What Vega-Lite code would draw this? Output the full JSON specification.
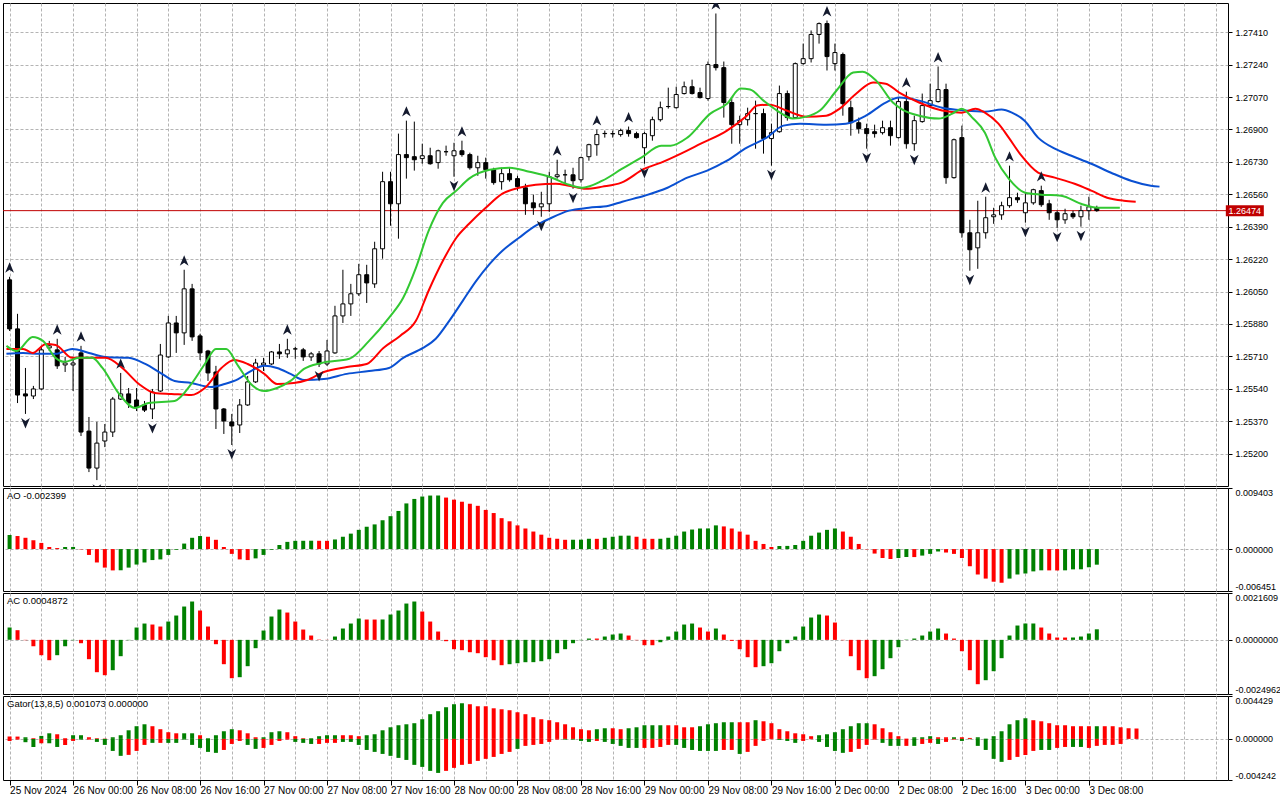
{
  "$schema": "https://vega.github.io/schema/vega-lite/v6.json",
  "background": "white",
  "padding": {"left": 2, "top": 2, "right": 0, "bottom": 0},
  "bounds": "flush",
  "spacing": 2,
  "datasets": {
    "last": [{"p": 1.26474}],
    "candles": [
      {"i":0,"o":1.26111,"h":1.26127,"l":1.25843,"c":1.25854},
      {"i":1,"o":1.25854,"h":1.25933,"l":1.25465,"c":1.25507},
      {"i":2,"o":1.25513,"h":1.25649,"l":1.25408,"c":1.25502},
      {"i":3,"o":1.25502,"h":1.25555,"l":1.25486,"c":1.25539},
      {"i":4,"o":1.25539,"h":1.25765,"l":1.25534,"c":1.25744},
      {"i":5,"o":1.25754,"h":1.25791,"l":1.25738,"c":1.25765},
      {"i":6,"o":1.25744,"h":1.25802,"l":1.25644,"c":1.2566},
      {"i":7,"o":1.25665,"h":1.25707,"l":1.25628,"c":1.25675},
      {"i":8,"o":1.25665,"h":1.25707,"l":1.25528,"c":1.25675},
      {"i":9,"o":1.25728,"h":1.25765,"l":1.25292,"c":1.25313},
      {"i":10,"o":1.25318,"h":1.25392,"l":1.25103,"c":1.25124},
      {"i":11,"o":1.25124,"h":1.25366,"l":1.25061,"c":1.25255},
      {"i":12,"o":1.25266,"h":1.25355,"l":1.25234,"c":1.25313},
      {"i":13,"o":1.25313,"h":1.25497,"l":1.25287,"c":1.25486},
      {"i":14,"o":1.25486,"h":1.25623,"l":1.25481,"c":1.25513},
      {"i":15,"o":1.25513,"h":1.25544,"l":1.25439,"c":1.25465},
      {"i":16,"o":1.25481,"h":1.25544,"l":1.25423,"c":1.25444},
      {"i":17,"o":1.25455,"h":1.25476,"l":1.25418,"c":1.25428},
      {"i":18,"o":1.25434,"h":1.25539,"l":1.25381,"c":1.25523},
      {"i":19,"o":1.25528,"h":1.25775,"l":1.25523,"c":1.25717},
      {"i":20,"o":1.25707,"h":1.25922,"l":1.25702,"c":1.25885},
      {"i":21,"o":1.25885,"h":1.25922,"l":1.25728,"c":1.25833},
      {"i":22,"o":1.25833,"h":1.26164,"l":1.2577,"c":1.26064},
      {"i":23,"o":1.26064,"h":1.2609,"l":1.25791,"c":1.25812},
      {"i":24,"o":1.25817,"h":1.25828,"l":1.25691,"c":1.25728},
      {"i":25,"o":1.25738,"h":1.25744,"l":1.25581,"c":1.25623},
      {"i":26,"o":1.25628,"h":1.2566,"l":1.25329,"c":1.25434},
      {"i":27,"o":1.25434,"h":1.25439,"l":1.25303,"c":1.25371},
      {"i":28,"o":1.25366,"h":1.25408,"l":1.25245,"c":1.25345},
      {"i":29,"o":1.2535,"h":1.25486,"l":1.25308,"c":1.25455},
      {"i":30,"o":1.25455,"h":1.25607,"l":1.2545,"c":1.25576},
      {"i":31,"o":1.25576,"h":1.25697,"l":1.2557,"c":1.25675},
      {"i":32,"o":1.25665,"h":1.25702,"l":1.25633,"c":1.25675},
      {"i":33,"o":1.2567,"h":1.25738,"l":1.25665,"c":1.25733},
      {"i":34,"o":1.25733,"h":1.25775,"l":1.25697,"c":1.25723},
      {"i":35,"o":1.25723,"h":1.25802,"l":1.25702,"c":1.25744},
      {"i":36,"o":1.25749,"h":1.2576,"l":1.25697,"c":1.25749},
      {"i":37,"o":1.25744,"h":1.25754,"l":1.25686,"c":1.25707},
      {"i":38,"o":1.25707,"h":1.25733,"l":1.25686,"c":1.25723},
      {"i":39,"o":1.25723,"h":1.25738,"l":1.25654,"c":1.2567},
      {"i":40,"o":1.2567,"h":1.25796,"l":1.2566,"c":1.25738},
      {"i":41,"o":1.25728,"h":1.25975,"l":1.25723,"c":1.25922},
      {"i":42,"o":1.25922,"h":1.26164,"l":1.25885,"c":1.25985},
      {"i":43,"o":1.25985,"h":1.2609,"l":1.25922,"c":1.26038},
      {"i":44,"o":1.26038,"h":1.26195,"l":1.26027,"c":1.26138},
      {"i":45,"o":1.26138,"h":1.2619,"l":1.2599,"c":1.26095},
      {"i":46,"o":1.2609,"h":1.26311,"l":1.26069,"c":1.26274},
      {"i":47,"o":1.26274,"h":1.26678,"l":1.26222,"c":1.26626},
      {"i":48,"o":1.26626,"h":1.26678,"l":1.26395,"c":1.2651},
      {"i":49,"o":1.2651,"h":1.26878,"l":1.26327,"c":1.26768},
      {"i":50,"o":1.26768,"h":1.26946,"l":1.26642,"c":1.26752},
      {"i":51,"o":1.26757,"h":1.26941,"l":1.26684,"c":1.26741},
      {"i":52,"o":1.26747,"h":1.26825,"l":1.2672,"c":1.26762},
      {"i":53,"o":1.26762,"h":1.26804,"l":1.26715,"c":1.2672},
      {"i":54,"o":1.26726,"h":1.26794,"l":1.26694,"c":1.26788},
      {"i":55,"o":1.26783,"h":1.26815,"l":1.26762,"c":1.26783},
      {"i":56,"o":1.26762,"h":1.2683,"l":1.26652,"c":1.26788},
      {"i":57,"o":1.26788,"h":1.26841,"l":1.26757,"c":1.26768},
      {"i":58,"o":1.26768,"h":1.26778,"l":1.26689,"c":1.26699},
      {"i":59,"o":1.26699,"h":1.26762,"l":1.26657,"c":1.26726},
      {"i":60,"o":1.26726,"h":1.26752,"l":1.26642,"c":1.26689},
      {"i":61,"o":1.26689,"h":1.26699,"l":1.2661,"c":1.26621},
      {"i":62,"o":1.26626,"h":1.26699,"l":1.26584,"c":1.26668},
      {"i":63,"o":1.26668,"h":1.26699,"l":1.26626,"c":1.26636},
      {"i":64,"o":1.26642,"h":1.26657,"l":1.26579,"c":1.266},
      {"i":65,"o":1.26594,"h":1.26615,"l":1.26452,"c":1.2651},
      {"i":66,"o":1.26515,"h":1.26558,"l":1.26452,"c":1.26489},
      {"i":67,"o":1.26494,"h":1.26573,"l":1.26442,"c":1.2651},
      {"i":68,"o":1.2651,"h":1.26678,"l":1.26468,"c":1.26652},
      {"i":69,"o":1.26652,"h":1.26741,"l":1.26642,"c":1.26662},
      {"i":70,"o":1.26662,"h":1.26689,"l":1.2661,"c":1.26662},
      {"i":71,"o":1.26662,"h":1.26699,"l":1.26589,"c":1.26631},
      {"i":72,"o":1.26636,"h":1.26757,"l":1.26621,"c":1.26752},
      {"i":73,"o":1.26757,"h":1.26825,"l":1.26736,"c":1.2682},
      {"i":74,"o":1.2682,"h":1.26899,"l":1.26762,"c":1.26873},
      {"i":75,"o":1.26878,"h":1.26894,"l":1.26857,"c":1.26879},
      {"i":76,"o":1.26878,"h":1.26894,"l":1.26857,"c":1.26877},
      {"i":77,"o":1.26873,"h":1.26904,"l":1.26862,"c":1.26894},
      {"i":78,"o":1.26894,"h":1.26915,"l":1.26862,"c":1.26878},
      {"i":79,"o":1.26878,"h":1.26888,"l":1.26852,"c":1.26857},
      {"i":80,"o":1.26804,"h":1.26888,"l":1.2672,"c":1.26878},
      {"i":81,"o":1.26867,"h":1.26967,"l":1.26841,"c":1.26951},
      {"i":82,"o":1.26951,"h":1.27046,"l":1.26941,"c":1.27014},
      {"i":83,"o":1.2702,"h":1.27119,"l":1.27009,"c":1.2702},
      {"i":84,"o":1.27014,"h":1.27124,"l":1.27009,"c":1.27083},
      {"i":85,"o":1.27088,"h":1.27151,"l":1.27083,"c":1.27124},
      {"i":86,"o":1.27124,"h":1.27161,"l":1.27083,"c":1.27088},
      {"i":87,"o":1.27093,"h":1.27119,"l":1.27062,"c":1.27067},
      {"i":88,"o":1.27062,"h":1.27256,"l":1.27051,"c":1.2724},
      {"i":89,"o":1.2724,"h":1.27508,"l":1.27209,"c":1.27224},
      {"i":90,"o":1.27224,"h":1.27256,"l":1.26962,"c":1.27041},
      {"i":91,"o":1.27041,"h":1.27062,"l":1.26825,"c":1.26925},
      {"i":92,"o":1.26925,"h":1.26972,"l":1.26825,"c":1.26946},
      {"i":93,"o":1.26951,"h":1.27014,"l":1.2692,"c":1.26983},
      {"i":94,"o":1.26983,"h":1.27051,"l":1.26799,"c":1.26983},
      {"i":95,"o":1.26983,"h":1.27009,"l":1.26773,"c":1.26852},
      {"i":96,"o":1.26852,"h":1.2693,"l":1.2671,"c":1.26883},
      {"i":97,"o":1.26888,"h":1.2713,"l":1.26883,"c":1.27088},
      {"i":98,"o":1.27088,"h":1.27104,"l":1.26946,"c":1.26962},
      {"i":99,"o":1.26962,"h":1.27251,"l":1.26956,"c":1.27245},
      {"i":100,"o":1.27245,"h":1.2735,"l":1.2724,"c":1.27271},
      {"i":101,"o":1.27271,"h":1.27419,"l":1.27251,"c":1.27398},
      {"i":102,"o":1.27398,"h":1.27461,"l":1.2735,"c":1.27455},
      {"i":103,"o":1.27455,"h":1.27471,"l":1.27209,"c":1.27282},
      {"i":104,"o":1.27245,"h":1.2735,"l":1.27209,"c":1.27303},
      {"i":105,"o":1.27293,"h":1.27303,"l":1.26972,"c":1.27035},
      {"i":106,"o":1.27014,"h":1.27051,"l":1.26867,"c":1.26935},
      {"i":107,"o":1.26935,"h":1.26962,"l":1.26878,"c":1.26904},
      {"i":108,"o":1.26904,"h":1.2693,"l":1.26799,"c":1.26878},
      {"i":109,"o":1.26888,"h":1.26925,"l":1.26857,"c":1.26878},
      {"i":110,"o":1.26883,"h":1.26946,"l":1.26873,"c":1.26909},
      {"i":111,"o":1.26909,"h":1.26946,"l":1.26815,"c":1.26867},
      {"i":112,"o":1.26857,"h":1.27067,"l":1.26852,"c":1.27046},
      {"i":113,"o":1.27046,"h":1.27098,"l":1.26799,"c":1.26825},
      {"i":114,"o":1.26825,"h":1.26972,"l":1.26788,"c":1.26946},
      {"i":115,"o":1.26941,"h":1.27088,"l":1.26935,"c":1.27025},
      {"i":116,"o":1.27025,"h":1.2714,"l":1.27014,"c":1.27051},
      {"i":117,"o":1.27046,"h":1.2723,"l":1.27041,"c":1.27109},
      {"i":118,"o":1.27109,"h":1.2714,"l":1.26615,"c":1.26647},
      {"i":119,"o":1.26647,"h":1.26852,"l":1.26642,"c":1.26846},
      {"i":120,"o":1.26857,"h":1.2692,"l":1.26332,"c":1.26358},
      {"i":121,"o":1.26358,"h":1.26426,"l":1.26159,"c":1.26269},
      {"i":122,"o":1.26279,"h":1.26526,"l":1.26169,"c":1.26358},
      {"i":123,"o":1.26358,"h":1.26547,"l":1.26327,"c":1.26437},
      {"i":124,"o":1.26442,"h":1.26489,"l":1.26405,"c":1.26452},
      {"i":125,"o":1.26452,"h":1.26521,"l":1.26426,"c":1.265},
      {"i":126,"o":1.265,"h":1.2671,"l":1.26489,"c":1.26542},
      {"i":127,"o":1.26542,"h":1.26568,"l":1.26515,"c":1.26531},
      {"i":128,"o":1.26463,"h":1.26568,"l":1.26411,"c":1.26515},
      {"i":129,"o":1.26515,"h":1.26589,"l":1.26505,"c":1.26584},
      {"i":130,"o":1.26579,"h":1.26605,"l":1.26494,"c":1.26505},
      {"i":131,"o":1.2651,"h":1.26531,"l":1.26426,"c":1.26463},
      {"i":132,"o":1.26463,"h":1.26474,"l":1.26384,"c":1.26426},
      {"i":133,"o":1.26426,"h":1.26484,"l":1.26405,"c":1.26458},
      {"i":134,"o":1.26458,"h":1.26474,"l":1.26431,"c":1.26442},
      {"i":135,"o":1.26442,"h":1.265,"l":1.2639,"c":1.26474},
      {"i":136,"o":1.26474,"h":1.26547,"l":1.26426,"c":1.26494},
      {"i":137,"o":1.26489,"h":1.265,"l":1.26468,"c":1.26474}
    ],
    "jaw": [
      {"i":-0.4,"v":1.25723},{"i":1.7,"v":1.25728},{"i":3.8,"v":1.25723},{"i":5.8,"v":1.25723},{"i":7.9,"v":1.25749},{"i":10,"v":1.25728},{"i":12.1,"v":1.25707},{"i":15,"v":1.25702},{"i":17.1,"v":1.2567},{"i":19.2,"v":1.25618},{"i":20.8,"v":1.25581},{"i":22.9,"v":1.2557},{"i":25.4,"v":1.25549},{"i":27.1,"v":1.25565},{"i":28.8,"v":1.25591},{"i":30.4,"v":1.25633},{"i":32.1,"v":1.2566},{"i":33.7,"v":1.25649},{"i":35.4,"v":1.25618},{"i":37.1,"v":1.25586},{"i":39.6,"v":1.25591},{"i":42.5,"v":1.25618},{"i":45.3,"v":1.25633},{"i":47.8,"v":1.25649},{"i":49.6,"v":1.25702},{"i":52.1,"v":1.25754},{"i":53.7,"v":1.25802},{"i":55.4,"v":1.25896},{"i":57.1,"v":1.26001},{"i":58.8,"v":1.26106},{"i":60.5,"v":1.26195},{"i":62.1,"v":1.26264},{"i":64.2,"v":1.26332},{"i":66.3,"v":1.26395},{"i":68,"v":1.26431},{"i":70.5,"v":1.26474},{"i":73,"v":1.26489},{"i":75.5,"v":1.265},{"i":77.2,"v":1.26521},{"i":80,"v":1.26552},{"i":82.9,"v":1.26594},{"i":85.4,"v":1.26647},{"i":87.9,"v":1.26684},{"i":90.4,"v":1.26736},{"i":92.9,"v":1.26804},{"i":95.4,"v":1.26857},{"i":97.5,"v":1.2692},{"i":99.6,"v":1.2693},{"i":102.9,"v":1.26925},{"i":105.4,"v":1.2693},{"i":107.9,"v":1.26972},{"i":110.4,"v":1.27041},{"i":112.1,"v":1.27067},{"i":114.6,"v":1.27051},{"i":117.5,"v":1.27014},{"i":120.4,"v":1.26999},{"i":122.9,"v":1.26993},{"i":125,"v":1.27004},{"i":126.3,"v":1.26988},{"i":127.9,"v":1.26946},{"i":129.6,"v":1.26857},{"i":131.7,"v":1.26799},{"i":133.8,"v":1.26762},{"i":136.3,"v":1.2672},{"i":138.8,"v":1.26673},{"i":141.3,"v":1.26631},{"i":143.8,"v":1.26605},{"i":144.9,"v":1.266}
    ],
    "teeth": [
      {"i":-0.4,"v":1.25749},{"i":1.7,"v":1.25749},{"i":2.9,"v":1.25728},{"i":4.6,"v":1.25775},{"i":5.8,"v":1.2577},{"i":7.9,"v":1.25702},{"i":10,"v":1.25702},{"i":12.1,"v":1.25702},{"i":14.2,"v":1.25649},{"i":16.3,"v":1.25565},{"i":18.3,"v":1.25518},{"i":20.4,"v":1.25513},{"i":22.9,"v":1.25507},{"i":24.6,"v":1.25544},{"i":26.7,"v":1.25649},{"i":28.3,"v":1.25691},{"i":30,"v":1.2567},{"i":32.1,"v":1.25618},{"i":33.7,"v":1.25565},{"i":35.8,"v":1.2557},{"i":37.5,"v":1.25586},{"i":39.6,"v":1.25628},{"i":42.5,"v":1.25654},{"i":45,"v":1.2567},{"i":47.1,"v":1.25754},{"i":49.2,"v":1.25817},{"i":51.2,"v":1.25896},{"i":52.8,"v":1.26054},{"i":54.6,"v":1.26211},{"i":56.3,"v":1.26332},{"i":57.9,"v":1.26405},{"i":60,"v":1.26489},{"i":62.1,"v":1.26563},{"i":64.2,"v":1.26594},{"i":66.3,"v":1.2661},{"i":68.8,"v":1.26615},{"i":70.5,"v":1.26605},{"i":72.6,"v":1.26589},{"i":74.7,"v":1.266},{"i":77.1,"v":1.26621},{"i":80,"v":1.26694},{"i":82.1,"v":1.26726},{"i":84.6,"v":1.26773},{"i":87.1,"v":1.26825},{"i":90.4,"v":1.26894},{"i":92.9,"v":1.26972},{"i":94.2,"v":1.27025},{"i":95.8,"v":1.2703},{"i":97.9,"v":1.26999},{"i":100.4,"v":1.26967},{"i":102.9,"v":1.26972},{"i":104.6,"v":1.27009},{"i":106.7,"v":1.27088},{"i":108.8,"v":1.27146},{"i":110.4,"v":1.2714},{"i":112.1,"v":1.27093},{"i":114.6,"v":1.27041},{"i":117.5,"v":1.26999},{"i":120,"v":1.26988},{"i":121.7,"v":1.27009},{"i":122.9,"v":1.26988},{"i":124.6,"v":1.2693},{"i":125.9,"v":1.26857},{"i":127.5,"v":1.26762},{"i":129.6,"v":1.26673},{"i":131.7,"v":1.26647},{"i":134.2,"v":1.26615},{"i":136.3,"v":1.26579},{"i":138.3,"v":1.26542},{"i":140.4,"v":1.26526},{"i":141.9,"v":1.26521}
    ],
    "lips": [
      {"i":-0.4,"v":1.25765},{"i":0.9,"v":1.25738},{"i":2.9,"v":1.25812},{"i":4.2,"v":1.25791},{"i":5.8,"v":1.25702},{"i":6.9,"v":1.25681},{"i":8.8,"v":1.25702},{"i":10.4,"v":1.25702},{"i":11.7,"v":1.25649},{"i":13.8,"v":1.25513},{"i":15.8,"v":1.25439},{"i":17.5,"v":1.25465},{"i":20.8,"v":1.25476},{"i":22.9,"v":1.25565},{"i":24.6,"v":1.2567},{"i":26,"v":1.25749},{"i":27.3,"v":1.25749},{"i":28.8,"v":1.2566},{"i":30.4,"v":1.25565},{"i":32.1,"v":1.25528},{"i":33.7,"v":1.25544},{"i":35.4,"v":1.25581},{"i":37.1,"v":1.25644},{"i":39.3,"v":1.25675},{"i":42.8,"v":1.25697},{"i":45.3,"v":1.25791},{"i":47.8,"v":1.25912},{"i":49.6,"v":1.26017},{"i":51.2,"v":1.26174},{"i":52.8,"v":1.26368},{"i":54.6,"v":1.26515},{"i":56.3,"v":1.26579},{"i":57.9,"v":1.26642},{"i":60.5,"v":1.26689},{"i":63,"v":1.26699},{"i":65.5,"v":1.26678},{"i":68,"v":1.26652},{"i":70.5,"v":1.2661},{"i":72.2,"v":1.26594},{"i":74.7,"v":1.26631},{"i":77.2,"v":1.26694},{"i":79.6,"v":1.26752},{"i":82.1,"v":1.26815},{"i":83.3,"v":1.26815},{"i":85.4,"v":1.26857},{"i":88.3,"v":1.26983},{"i":90.4,"v":1.27035},{"i":92.1,"v":1.27114},{"i":93.3,"v":1.27109},{"i":95,"v":1.27051},{"i":96.7,"v":1.26999},{"i":98.7,"v":1.26957},{"i":100.4,"v":1.26967},{"i":102.1,"v":1.26999},{"i":104.2,"v":1.27104},{"i":106.3,"v":1.27198},{"i":107.5,"v":1.27203},{"i":109.2,"v":1.27156},{"i":111.3,"v":1.27041},{"i":112.5,"v":1.27004},{"i":114.6,"v":1.26972},{"i":117.1,"v":1.26957},{"i":118.8,"v":1.26983},{"i":120,"v":1.27009},{"i":121.3,"v":1.26962},{"i":122.9,"v":1.26883},{"i":124.2,"v":1.26752},{"i":125.9,"v":1.26642},{"i":128,"v":1.26568},{"i":130,"v":1.26558},{"i":132.5,"v":1.26552},{"i":135,"v":1.2651},{"i":137.1,"v":1.26489},{"i":139.9,"v":1.26489}
    ],
    "fup": [
      {"i":0,"p":1.26127},{"i":6,"p":1.25802},{"i":9,"p":1.25765},{"i":14,"p":1.25623},{"i":22,"p":1.26164},{"i":35,"p":1.25802},{"i":50,"p":1.26946},{"i":57,"p":1.26841},{"i":69,"p":1.26741},{"i":74,"p":1.26899},{"i":78,"p":1.26915},{"i":89,"p":1.27508},{"i":103,"p":1.27471},{"i":113,"p":1.27098},{"i":117,"p":1.2723},{"i":123,"p":1.26547},{"i":126,"p":1.2671},{"i":130,"p":1.26605}
    ],
    "fdn": [
      {"i":2,"p":1.25408},{"i":11,"p":1.25061},{"i":18,"p":1.25381},{"i":28,"p":1.25245},{"i":39,"p":1.25654},{"i":56,"p":1.26652},{"i":67,"p":1.26442},{"i":71,"p":1.26589},{"i":80,"p":1.2672},{"i":96,"p":1.2671},{"i":108,"p":1.26799},{"i":114,"p":1.26788},{"i":121,"p":1.26159},{"i":128,"p":1.26411},{"i":132,"p":1.26384},{"i":135,"p":1.2639}
    ],
    "ao": [
      {"i":0,"v":0.00217,"d":"up"},{"i":1,"v":0.00201,"d":"dn"},{"i":2,"v":0.00174,"d":"dn"},{"i":3,"v":0.00137,"d":"dn"},{"i":4,"v":0.00095,"d":"dn"},{"i":5,"v":0.00032,"d":"dn"},{"i":6,"v":0.00016,"d":"dn"},{"i":7,"v":0.00032,"d":"up"},{"i":8,"v":0.00033,"d":"up"},{"i":9,"v":-0.00005,"d":"dn"},
      {"i":10,"v":-0.0009,"d":"dn"},{"i":11,"v":-0.00206,"d":"dn"},{"i":12,"v":-0.00285,"d":"dn"},{"i":13,"v":-0.00328,"d":"dn"},{"i":14,"v":-0.00326,"d":"up"},{"i":15,"v":-0.00285,"d":"up"},{"i":16,"v":-0.00238,"d":"up"},{"i":17,"v":-0.00206,"d":"up"},{"i":18,"v":-0.00169,"d":"up"},{"i":19,"v":-0.00159,"d":"up"},
      {"i":20,"v":-0.0009,"d":"up"},{"i":21,"v":-0.00011,"d":"up"},{"i":22,"v":0.00085,"d":"up"},{"i":23,"v":0.00174,"d":"up"},{"i":24,"v":0.00201,"d":"up"},{"i":25,"v":0.0019,"d":"dn"},{"i":26,"v":0.00143,"d":"dn"},{"i":27,"v":0.00032,"d":"dn"},{"i":28,"v":-0.00074,"d":"dn"},{"i":29,"v":-0.00159,"d":"dn"},
      {"i":30,"v":-0.00169,"d":"dn"},{"i":31,"v":-0.00143,"d":"up"},{"i":32,"v":-0.0009,"d":"up"},{"i":33,"v":-0.00011,"d":"up"},{"i":34,"v":0.00063,"d":"up"},{"i":35,"v":0.00111,"d":"up"},{"i":36,"v":0.00127,"d":"up"},{"i":37,"v":0.00128,"d":"up"},{"i":38,"v":0.00129,"d":"up"},{"i":39,"v":0.00128,"d":"dn"},
      {"i":40,"v":0.00127,"d":"dn"},{"i":41,"v":0.00148,"d":"up"},{"i":42,"v":0.0019,"d":"up"},{"i":43,"v":0.00238,"d":"up"},{"i":44,"v":0.00296,"d":"up"},{"i":45,"v":0.00344,"d":"up"},{"i":46,"v":0.0038,"d":"up"},{"i":47,"v":0.00444,"d":"up"},{"i":48,"v":0.00507,"d":"up"},{"i":49,"v":0.00587,"d":"up"},
      {"i":50,"v":0.00703,"d":"up"},{"i":51,"v":0.00772,"d":"up"},{"i":52,"v":0.00809,"d":"up"},{"i":53,"v":0.00824,"d":"up"},{"i":54,"v":0.00825,"d":"up"},{"i":55,"v":0.00793,"d":"dn"},{"i":56,"v":0.00761,"d":"dn"},{"i":57,"v":0.00729,"d":"dn"},{"i":58,"v":0.00698,"d":"dn"},{"i":59,"v":0.00666,"d":"dn"},
      {"i":60,"v":0.00603,"d":"dn"},{"i":61,"v":0.00555,"d":"dn"},{"i":62,"v":0.00476,"d":"dn"},{"i":63,"v":0.00428,"d":"dn"},{"i":64,"v":0.00365,"d":"dn"},{"i":65,"v":0.00317,"d":"dn"},{"i":66,"v":0.0027,"d":"dn"},{"i":67,"v":0.00222,"d":"dn"},{"i":68,"v":0.00174,"d":"dn"},{"i":69,"v":0.00159,"d":"dn"},
      {"i":70,"v":0.00143,"d":"dn"},{"i":71,"v":0.00144,"d":"up"},{"i":72,"v":0.00145,"d":"up"},{"i":73,"v":0.00159,"d":"up"},{"i":74,"v":0.00158,"d":"dn"},{"i":75,"v":0.00174,"d":"up"},{"i":76,"v":0.0019,"d":"up"},{"i":77,"v":0.00206,"d":"up"},{"i":78,"v":0.00207,"d":"up"},{"i":79,"v":0.0019,"d":"dn"},
      {"i":80,"v":0.00159,"d":"dn"},{"i":81,"v":0.00158,"d":"dn"},{"i":82,"v":0.00159,"d":"up"},{"i":83,"v":0.00174,"d":"up"},{"i":84,"v":0.00206,"d":"up"},{"i":85,"v":0.0027,"d":"up"},{"i":86,"v":0.00301,"d":"up"},{"i":87,"v":0.00317,"d":"up"},{"i":88,"v":0.00318,"d":"up"},{"i":89,"v":0.00365,"d":"up"},
      {"i":90,"v":0.00349,"d":"dn"},{"i":91,"v":0.00317,"d":"dn"},{"i":92,"v":0.0027,"d":"dn"},{"i":93,"v":0.00222,"d":"dn"},{"i":94,"v":0.00127,"d":"dn"},{"i":95,"v":0.00079,"d":"dn"},{"i":96,"v":0.00032,"d":"dn"},{"i":97,"v":0.00048,"d":"up"},{"i":98,"v":0.00049,"d":"up"},{"i":99,"v":0.00063,"d":"up"},
      {"i":100,"v":0.00127,"d":"up"},{"i":101,"v":0.00206,"d":"up"},{"i":102,"v":0.00254,"d":"up"},{"i":103,"v":0.00296,"d":"up"},{"i":104,"v":0.00317,"d":"up"},{"i":105,"v":0.0027,"d":"dn"},{"i":106,"v":0.0019,"d":"dn"},{"i":107,"v":0.00079,"d":"dn"},{"i":108,"v":-0.00005,"d":"dn"},{"i":109,"v":-0.00069,"d":"dn"},
      {"i":110,"v":-0.00137,"d":"dn"},{"i":111,"v":-0.00153,"d":"dn"},{"i":112,"v":-0.00137,"d":"up"},{"i":113,"v":-0.00122,"d":"up"},{"i":114,"v":-0.00123,"d":"dn"},{"i":115,"v":-0.001,"d":"up"},{"i":116,"v":-0.00074,"d":"up"},{"i":117,"v":-0.00037,"d":"up"},{"i":118,"v":-0.00053,"d":"dn"},{"i":119,"v":-0.00074,"d":"dn"},
      {"i":120,"v":-0.00137,"d":"dn"},{"i":121,"v":-0.00264,"d":"dn"},{"i":122,"v":-0.00391,"d":"dn"},{"i":123,"v":-0.00454,"d":"dn"},{"i":124,"v":-0.00502,"d":"dn"},{"i":125,"v":-0.00518,"d":"dn"},{"i":126,"v":-0.00454,"d":"up"},{"i":127,"v":-0.00391,"d":"up"},{"i":128,"v":-0.00375,"d":"up"},{"i":129,"v":-0.00343,"d":"up"},
      {"i":130,"v":-0.00327,"d":"up"},{"i":131,"v":-0.00328,"d":"dn"},{"i":132,"v":-0.00329,"d":"dn"},{"i":133,"v":-0.00327,"d":"up"},{"i":134,"v":-0.00312,"d":"up"},{"i":135,"v":-0.00311,"d":"up"},{"i":136,"v":-0.0028,"d":"up"},{"i":137,"v":-0.002399,"d":"up"}
    ],
    "ac": [
      {"i":0,"v":0.000569,"d":"up"},{"i":1,"v":0.000446,"d":"dn"},{"i":2,"v":-0.000015,"d":"dn"},{"i":3,"v":-0.000292,"d":"dn"},{"i":4,"v":-0.000707,"d":"dn"},{"i":5,"v":-0.000938,"d":"dn"},{"i":6,"v":-0.000707,"d":"up"},{"i":7,"v":-0.000292,"d":"up"},{"i":8,"v":-0.000015,"d":"up"},{"i":9,"v":-0.000154,"d":"dn"},
      {"i":10,"v":-0.000891,"d":"dn"},{"i":11,"v":-0.001491,"d":"dn"},{"i":12,"v":-0.001629,"d":"dn"},{"i":13,"v":-0.001399,"d":"up"},{"i":14,"v":-0.000753,"d":"up"},{"i":15,"v":-0.000015,"d":"up"},{"i":16,"v":0.000569,"d":"up"},{"i":17,"v":0.000753,"d":"up"},{"i":18,"v":0.000707,"d":"dn"},{"i":19,"v":0.000615,"d":"dn"},
      {"i":20,"v":0.000845,"d":"up"},{"i":21,"v":0.001122,"d":"up"},{"i":22,"v":0.001537,"d":"up"},{"i":23,"v":0.001768,"d":"up"},{"i":24,"v":0.001353,"d":"dn"},{"i":25,"v":0.000615,"d":"dn"},{"i":26,"v":-0.0002,"d":"dn"},{"i":27,"v":-0.001122,"d":"dn"},{"i":28,"v":-0.001768,"d":"dn"},{"i":29,"v":-0.001721,"d":"up"},
      {"i":30,"v":-0.001214,"d":"up"},{"i":31,"v":-0.000384,"d":"up"},{"i":32,"v":0.00043,"d":"up"},{"i":33,"v":0.001076,"d":"up"},{"i":34,"v":0.001399,"d":"up"},{"i":35,"v":0.00126,"d":"dn"},{"i":36,"v":0.000845,"d":"dn"},{"i":37,"v":0.000476,"d":"dn"},{"i":38,"v":0.0002,"d":"dn"},{"i":39,"v":0.000015,"d":"dn"},
      {"i":40,"v":-0.000005,"d":"dn"},{"i":41,"v":0.000154,"d":"up"},{"i":42,"v":0.000523,"d":"up"},{"i":43,"v":0.000753,"d":"up"},{"i":44,"v":0.000984,"d":"up"},{"i":45,"v":0.000938,"d":"dn"},{"i":46,"v":0.000937,"d":"dn"},{"i":47,"v":0.00094,"d":"up"},{"i":48,"v":0.001168,"d":"up"},{"i":49,"v":0.001353,"d":"up"},
      {"i":50,"v":0.001675,"d":"up"},{"i":51,"v":0.001768,"d":"up"},{"i":52,"v":0.001306,"d":"dn"},{"i":53,"v":0.000845,"d":"dn"},{"i":54,"v":0.000384,"d":"dn"},{"i":55,"v":-0.000061,"d":"dn"},{"i":56,"v":-0.00043,"d":"dn"},{"i":57,"v":-0.000476,"d":"dn"},{"i":58,"v":-0.000569,"d":"dn"},{"i":59,"v":-0.000615,"d":"dn"},
      {"i":60,"v":-0.000799,"d":"dn"},{"i":61,"v":-0.000938,"d":"dn"},{"i":62,"v":-0.001168,"d":"dn"},{"i":63,"v":-0.001122,"d":"up"},{"i":64,"v":-0.001076,"d":"up"},{"i":65,"v":-0.00103,"d":"up"},{"i":66,"v":-0.001028,"d":"up"},{"i":67,"v":-0.000984,"d":"up"},{"i":68,"v":-0.000891,"d":"up"},{"i":69,"v":-0.000615,"d":"up"},
      {"i":70,"v":-0.00043,"d":"up"},{"i":71,"v":-0.000154,"d":"up"},{"i":72,"v":-0.000015,"d":"up"},{"i":73,"v":0.000061,"d":"up"},{"i":74,"v":0.00006,"d":"dn"},{"i":75,"v":0.000154,"d":"up"},{"i":76,"v":0.000246,"d":"up"},{"i":77,"v":0.000292,"d":"up"},{"i":78,"v":0.0002,"d":"dn"},{"i":79,"v":-0.000015,"d":"dn"},
      {"i":80,"v":-0.000246,"d":"dn"},{"i":81,"v":-0.000247,"d":"dn"},{"i":82,"v":-0.000108,"d":"up"},{"i":83,"v":0.000154,"d":"up"},{"i":84,"v":0.000384,"d":"up"},{"i":85,"v":0.000707,"d":"up"},{"i":86,"v":0.000753,"d":"up"},{"i":87,"v":0.000569,"d":"dn"},{"i":88,"v":0.000384,"d":"dn"},{"i":89,"v":0.000523,"d":"up"},
      {"i":90,"v":0.000246,"d":"dn"},{"i":91,"v":-0.000046,"d":"dn"},{"i":92,"v":-0.00043,"d":"dn"},{"i":93,"v":-0.000799,"d":"dn"},{"i":94,"v":-0.00126,"d":"dn"},{"i":95,"v":-0.001214,"d":"up"},{"i":96,"v":-0.001076,"d":"up"},{"i":97,"v":-0.000523,"d":"up"},{"i":98,"v":-0.000154,"d":"up"},{"i":99,"v":0.000154,"d":"up"},
      {"i":100,"v":0.000615,"d":"up"},{"i":101,"v":0.00103,"d":"up"},{"i":102,"v":0.001168,"d":"up"},{"i":103,"v":0.001122,"d":"dn"},{"i":104,"v":0.000799,"d":"dn"},{"i":105,"v":-0.000015,"d":"dn"},{"i":106,"v":-0.000753,"d":"dn"},{"i":107,"v":-0.001399,"d":"dn"},{"i":108,"v":-0.001768,"d":"dn"},{"i":109,"v":-0.001675,"d":"up"},
      {"i":110,"v":-0.001353,"d":"up"},{"i":111,"v":-0.000845,"d":"up"},{"i":112,"v":-0.000338,"d":"up"},{"i":113,"v":0.000015,"d":"up"},{"i":114,"v":0.000061,"d":"up"},{"i":115,"v":0.0002,"d":"up"},{"i":116,"v":0.000384,"d":"up"},{"i":117,"v":0.000523,"d":"up"},{"i":118,"v":0.000292,"d":"dn"},{"i":119,"v":0.000061,"d":"dn"},
      {"i":120,"v":-0.000523,"d":"dn"},{"i":121,"v":-0.001399,"d":"dn"},{"i":122,"v":-0.002044,"d":"dn"},{"i":123,"v":-0.00186,"d":"up"},{"i":124,"v":-0.001445,"d":"up"},{"i":125,"v":-0.000845,"d":"up"},{"i":126,"v":0.0002,"d":"up"},{"i":127,"v":0.000661,"d":"up"},{"i":128,"v":0.000753,"d":"up"},{"i":129,"v":0.000755,"d":"up"},
      {"i":130,"v":0.000569,"d":"dn"},{"i":131,"v":0.000292,"d":"dn"},{"i":132,"v":0.000108,"d":"dn"},{"i":133,"v":0.000107,"d":"dn"},{"i":134,"v":0.000109,"d":"up"},{"i":135,"v":0.000154,"d":"up"},{"i":136,"v":0.000292,"d":"up"},{"i":137,"v":0.0004872,"d":"up"}
    ],
    "gator": [
      {"i":0,"v":0.00024,"d":"dn"},{"i":0,"v":-0.00021,"d":"dn"},{"i":1,"v":0.00024,"d":"dn"},{"i":1,"v":-0.00007,"d":"dn"},{"i":2,"v":0.00017,"d":"up"},{"i":2,"v":-0.00034,"d":"up"},{"i":3,"v":0.00007,"d":"dn"},{"i":3,"v":-0.00083,"d":"up"},{"i":4,"v":0.00031,"d":"up"},{"i":4,"v":-0.00045,"d":"dn"},
      {"i":5,"v":0.00058,"d":"up"},{"i":5,"v":-0.00045,"d":"up"},{"i":6,"v":0.00048,"d":"dn"},{"i":6,"v":-0.00083,"d":"up"},{"i":7,"v":0.00007,"d":"dn"},{"i":7,"v":-0.00062,"d":"dn"},{"i":8,"v":0.00038,"d":"up"},{"i":8,"v":-0.00021,"d":"dn"},{"i":9,"v":0.00038,"d":"up"},{"i":9,"v":-0.00007,"d":"up"},
      {"i":10,"v":0.00017,"d":"dn"},{"i":10,"v":-0.00007,"d":"dn"},{"i":11,"v":0.00007,"d":"dn"},{"i":11,"v":-0.00031,"d":"up"},{"i":12,"v":0.00003,"d":"dn"},{"i":12,"v":-0.00062,"d":"up"},{"i":13,"v":0.00017,"d":"up"},{"i":13,"v":-0.00124,"d":"up"},{"i":14,"v":0.00038,"d":"up"},{"i":14,"v":-0.00175,"d":"up"},
      {"i":15,"v":0.00089,"d":"up"},{"i":15,"v":-0.00165,"d":"dn"},{"i":16,"v":0.00131,"d":"up"},{"i":16,"v":-0.00124,"d":"dn"},{"i":17,"v":0.00151,"d":"up"},{"i":17,"v":-0.00062,"d":"dn"},{"i":18,"v":0.00131,"d":"dn"},{"i":18,"v":-0.00041,"d":"up"},{"i":19,"v":0.001,"d":"dn"},{"i":19,"v":-0.00041,"d":"dn"},
      {"i":20,"v":0.00069,"d":"dn"},{"i":20,"v":-0.00041,"d":"up"},{"i":21,"v":0.00058,"d":"dn"},{"i":21,"v":-0.00041,"d":"up"},{"i":22,"v":0.00058,"d":"up"},{"i":22,"v":-0.00007,"d":"up"},{"i":23,"v":0.00058,"d":"up"},{"i":23,"v":-0.00062,"d":"up"},{"i":24,"v":0.00038,"d":"dn"},{"i":24,"v":-0.00093,"d":"up"},
      {"i":25,"v":0.00007,"d":"up"},{"i":25,"v":-0.00134,"d":"up"},{"i":26,"v":0.00038,"d":"up"},{"i":26,"v":-0.00144,"d":"up"},{"i":27,"v":0.00079,"d":"up"},{"i":27,"v":-0.00114,"d":"dn"},{"i":28,"v":0.001,"d":"up"},{"i":28,"v":-0.00052,"d":"dn"},{"i":29,"v":0.00089,"d":"dn"},{"i":29,"v":-0.00021,"d":"dn"},
      {"i":30,"v":0.00058,"d":"dn"},{"i":30,"v":-0.00062,"d":"up"},{"i":31,"v":0.00017,"d":"dn"},{"i":31,"v":-0.00103,"d":"up"},{"i":32,"v":0.00017,"d":"up"},{"i":32,"v":-0.00093,"d":"dn"},{"i":33,"v":0.00069,"d":"up"},{"i":33,"v":-0.00062,"d":"dn"},{"i":34,"v":0.00079,"d":"up"},{"i":34,"v":-0.00021,"d":"dn"},
      {"i":35,"v":0.00069,"d":"dn"},{"i":35,"v":-0.00007,"d":"dn"},{"i":36,"v":0.00028,"d":"dn"},{"i":36,"v":-0.00031,"d":"up"},{"i":37,"v":0.00007,"d":"dn"},{"i":37,"v":-0.00041,"d":"up"},{"i":38,"v":0.00007,"d":"up"},{"i":38,"v":-0.00052,"d":"up"},{"i":39,"v":0.00028,"d":"up"},{"i":39,"v":-0.00052,"d":"dn"},
      {"i":40,"v":0.00038,"d":"up"},{"i":40,"v":-0.00041,"d":"dn"},{"i":41,"v":0.00038,"d":"up"},{"i":41,"v":-0.00041,"d":"dn"},{"i":42,"v":0.00038,"d":"dn"},{"i":42,"v":-0.00031,"d":"up"},{"i":43,"v":0.00038,"d":"dn"},{"i":43,"v":-0.00031,"d":"up"},{"i":44,"v":0.00028,"d":"dn"},{"i":44,"v":-0.00062,"d":"up"},
      {"i":45,"v":0.00038,"d":"up"},{"i":45,"v":-0.00114,"d":"up"},{"i":46,"v":0.00048,"d":"up"},{"i":46,"v":-0.00134,"d":"up"},{"i":47,"v":0.00089,"d":"up"},{"i":47,"v":-0.00155,"d":"up"},{"i":48,"v":0.0012,"d":"up"},{"i":48,"v":-0.00175,"d":"up"},{"i":49,"v":0.00141,"d":"up"},{"i":49,"v":-0.00196,"d":"up"},
      {"i":50,"v":0.00151,"d":"up"},{"i":50,"v":-0.00217,"d":"up"},{"i":51,"v":0.00162,"d":"up"},{"i":51,"v":-0.00268,"d":"up"},{"i":52,"v":0.00203,"d":"up"},{"i":52,"v":-0.00289,"d":"up"},{"i":53,"v":0.00255,"d":"up"},{"i":53,"v":-0.0033,"d":"up"},{"i":54,"v":0.00286,"d":"up"},{"i":54,"v":-0.00351,"d":"up"},
      {"i":55,"v":0.00327,"d":"up"},{"i":55,"v":-0.0033,"d":"dn"},{"i":56,"v":0.00358,"d":"up"},{"i":56,"v":-0.00299,"d":"dn"},{"i":57,"v":0.00368,"d":"up"},{"i":57,"v":-0.00268,"d":"dn"},{"i":58,"v":0.00358,"d":"dn"},{"i":58,"v":-0.00258,"d":"dn"},{"i":59,"v":0.00337,"d":"dn"},{"i":59,"v":-0.00227,"d":"dn"},
      {"i":60,"v":0.00337,"d":"dn"},{"i":60,"v":-0.00206,"d":"dn"},{"i":61,"v":0.00316,"d":"dn"},{"i":61,"v":-0.00186,"d":"dn"},{"i":62,"v":0.00306,"d":"dn"},{"i":62,"v":-0.00155,"d":"dn"},{"i":63,"v":0.00296,"d":"dn"},{"i":63,"v":-0.00134,"d":"dn"},{"i":64,"v":0.00275,"d":"dn"},{"i":64,"v":-0.00103,"d":"up"},
      {"i":65,"v":0.00255,"d":"dn"},{"i":65,"v":-0.00072,"d":"dn"},{"i":66,"v":0.00224,"d":"dn"},{"i":66,"v":-0.00062,"d":"dn"},{"i":67,"v":0.00203,"d":"dn"},{"i":67,"v":-0.00052,"d":"dn"},{"i":68,"v":0.00193,"d":"dn"},{"i":68,"v":-0.00031,"d":"dn"},{"i":69,"v":0.00172,"d":"dn"},{"i":69,"v":-0.00007,"d":"dn"},
      {"i":70,"v":0.00151,"d":"dn"},{"i":70,"v":-0.00007,"d":"up"},{"i":71,"v":0.0012,"d":"dn"},{"i":71,"v":-0.00007,"d":"up"},{"i":72,"v":0.001,"d":"dn"},{"i":72,"v":-0.00021,"d":"up"},{"i":73,"v":0.00089,"d":"dn"},{"i":73,"v":-0.00031,"d":"up"},{"i":74,"v":0.001,"d":"up"},{"i":74,"v":-0.00021,"d":"dn"},
      {"i":75,"v":0.0011,"d":"up"},{"i":75,"v":-0.00031,"d":"up"},{"i":76,"v":0.0011,"d":"dn"},{"i":76,"v":-0.00052,"d":"up"},{"i":77,"v":0.001,"d":"dn"},{"i":77,"v":-0.00072,"d":"up"},{"i":78,"v":0.0011,"d":"up"},{"i":78,"v":-0.00093,"d":"up"},{"i":79,"v":0.0012,"d":"up"},{"i":79,"v":-0.00093,"d":"up"},
      {"i":80,"v":0.00141,"d":"up"},{"i":80,"v":-0.00093,"d":"dn"},{"i":81,"v":0.00141,"d":"up"},{"i":81,"v":-0.00093,"d":"dn"},{"i":82,"v":0.00141,"d":"up"},{"i":82,"v":-0.00083,"d":"dn"},{"i":83,"v":0.00141,"d":"dn"},{"i":83,"v":-0.00062,"d":"dn"},{"i":84,"v":0.00141,"d":"dn"},{"i":84,"v":-0.00062,"d":"up"},
      {"i":85,"v":0.0012,"d":"dn"},{"i":85,"v":-0.00093,"d":"up"},{"i":86,"v":0.0012,"d":"dn"},{"i":86,"v":-0.00114,"d":"up"},{"i":87,"v":0.00131,"d":"up"},{"i":87,"v":-0.00124,"d":"up"},{"i":88,"v":0.00151,"d":"up"},{"i":88,"v":-0.00124,"d":"up"},{"i":89,"v":0.00162,"d":"up"},{"i":89,"v":-0.00124,"d":"up"},
      {"i":90,"v":0.00172,"d":"up"},{"i":90,"v":-0.00114,"d":"dn"},{"i":91,"v":0.00172,"d":"up"},{"i":91,"v":-0.00114,"d":"dn"},{"i":92,"v":0.00172,"d":"dn"},{"i":92,"v":-0.00155,"d":"up"},{"i":93,"v":0.00172,"d":"dn"},{"i":93,"v":-0.00134,"d":"dn"},{"i":94,"v":0.00193,"d":"up"},{"i":94,"v":-0.00072,"d":"dn"},
      {"i":95,"v":0.00182,"d":"dn"},{"i":95,"v":-0.00021,"d":"dn"},{"i":96,"v":0.00162,"d":"dn"},{"i":96,"v":-0.00003,"d":"dn"},{"i":97,"v":0.001,"d":"dn"},{"i":97,"v":-0.0001,"d":"up"},{"i":98,"v":0.00079,"d":"dn"},{"i":98,"v":-0.00021,"d":"up"},{"i":99,"v":0.00058,"d":"dn"},{"i":99,"v":-0.00041,"d":"up"},
      {"i":100,"v":0.00048,"d":"dn"},{"i":100,"v":-0.00021,"d":"dn"},{"i":101,"v":0.00028,"d":"dn"},{"i":101,"v":-0.00003,"d":"dn"},{"i":102,"v":0.00038,"d":"up"},{"i":102,"v":-0.00031,"d":"up"},{"i":103,"v":0.00048,"d":"up"},{"i":103,"v":-0.00083,"d":"up"},{"i":104,"v":0.00069,"d":"up"},{"i":104,"v":-0.00124,"d":"up"},
      {"i":105,"v":0.001,"d":"up"},{"i":105,"v":-0.00144,"d":"up"},{"i":106,"v":0.00131,"d":"up"},{"i":106,"v":-0.00134,"d":"dn"},{"i":107,"v":0.00162,"d":"up"},{"i":107,"v":-0.00103,"d":"dn"},{"i":108,"v":0.00162,"d":"up"},{"i":108,"v":-0.00062,"d":"dn"},{"i":109,"v":0.00151,"d":"dn"},{"i":109,"v":-0.00007,"d":"dn"},
      {"i":110,"v":0.0011,"d":"dn"},{"i":110,"v":-0.00041,"d":"up"},{"i":111,"v":0.00069,"d":"dn"},{"i":111,"v":-0.00072,"d":"up"},{"i":112,"v":0.00028,"d":"dn"},{"i":112,"v":-0.00072,"d":"up"},{"i":113,"v":0.00003,"d":"dn"},{"i":113,"v":-0.00072,"d":"dn"},{"i":114,"v":0.00017,"d":"up"},{"i":114,"v":-0.00072,"d":"up"},
      {"i":115,"v":0.00017,"d":"up"},{"i":115,"v":-0.00052,"d":"dn"},{"i":116,"v":0.00028,"d":"up"},{"i":116,"v":-0.00041,"d":"dn"},{"i":117,"v":0.00017,"d":"dn"},{"i":117,"v":-0.00052,"d":"up"},{"i":118,"v":0.00017,"d":"dn"},{"i":118,"v":-0.00031,"d":"dn"},{"i":119,"v":0.00017,"d":"up"},{"i":119,"v":-0.00007,"d":"dn"},
      {"i":120,"v":0.00017,"d":"dn"},{"i":120,"v":-0.00021,"d":"up"},{"i":121,"v":0.0001,"d":"dn"},{"i":121,"v":-0.00003,"d":"up"},{"i":122,"v":0.00017,"d":"up"},{"i":122,"v":-0.00072,"d":"up"},{"i":123,"v":0.00003,"d":"up"},{"i":123,"v":-0.00114,"d":"up"},{"i":124,"v":0.00028,"d":"up"},{"i":124,"v":-0.00206,"d":"up"},
      {"i":125,"v":0.00079,"d":"up"},{"i":125,"v":-0.00237,"d":"up"},{"i":126,"v":0.00151,"d":"up"},{"i":126,"v":-0.00217,"d":"dn"},{"i":127,"v":0.00193,"d":"up"},{"i":127,"v":-0.00186,"d":"dn"},{"i":128,"v":0.00213,"d":"up"},{"i":128,"v":-0.00165,"d":"dn"},{"i":129,"v":0.00193,"d":"dn"},{"i":129,"v":-0.00124,"d":"dn"},
      {"i":130,"v":0.00182,"d":"dn"},{"i":130,"v":-0.00114,"d":"up"},{"i":131,"v":0.00162,"d":"dn"},{"i":131,"v":-0.00114,"d":"up"},{"i":132,"v":0.00141,"d":"dn"},{"i":132,"v":-0.00093,"d":"dn"},{"i":133,"v":0.00141,"d":"dn"},{"i":133,"v":-0.00083,"d":"dn"},{"i":134,"v":0.00131,"d":"dn"},{"i":134,"v":-0.00083,"d":"up"},
      {"i":135,"v":0.00131,"d":"dn"},{"i":135,"v":-0.00083,"d":"up"},{"i":136,"v":0.00131,"d":"dn"},{"i":136,"v":-0.00093,"d":"dn"},{"i":137,"v":0.00131,"d":"up"},{"i":137,"v":-0.00072,"d":"dn"},{"i":138,"v":0.00131,"d":"dn"},{"i":138,"v":-0.00062,"d":"dn"},{"i":139,"v":0.00131,"d":"dn"},{"i":139,"v":-0.00062,"d":"dn"},
      {"i":140,"v":0.0012,"d":"dn"},{"i":140,"v":-0.00052,"d":"dn"},{"i":141,"v":0.0011,"d":"dn"},{"i":142,"v":0.001073,"d":"dn"}
    ]
  },
  "vconcat": [
    {
      "width": 1225,
      "height": 483,
      "layer": [
        {
          "data": {"name": "last"},
          "mark": {"type": "rule", "color": "#c00000", "strokeWidth": 1},
          "encoding": {
            "y": {"field": "p", "type": "quantitative", "title": null}
          }
        },
        {
          "data": {"name": "candles"},
          "mark": {"type": "rule", "color": "black", "strokeWidth": 1, "clip": true},
          "encoding": {
            "x": {
              "field": "i",
              "type": "quantitative",
              "title": null,
              "scale": {"domain": [-0.2, 152.9], "nice": false, "zero": false},
              "axis": {
                "values": [0,4,8,12,16,20,24,28,32,36,40,44,48,52,56,60,64,68,72,76,80,84,88,92,96,100,104,108,112,116,120,124,128,132,136,140,144,148,152],
                "tickCount": 80,
                "labels": false,
                "ticks": false,
                "grid": true,
                "title": null
              }
            },
            "y": {
              "field": "l",
              "type": "quantitative",
              "title": null,
              "scale": {"domain": [1.2503, 1.27563], "nice": false, "zero": false},
              "axis": {
                "orient": "right",
                "values": [1.252, 1.2537, 1.2554, 1.2571, 1.2588, 1.2605, 1.2622, 1.2639, 1.2656, 1.2673, 1.269, 1.2707, 1.2724, 1.2741],
                "tickCount": 40,
                "format": ".5f",
                "title": null,
                "grid": true,
                "ticks": true,
                "labels": true,
                "labelOverlap": false,
                "tickSize": 4,
                "labelPadding": 3,
                "labelFontSize": 9
              }
            },
            "y2": {"field": "h"}
          }
        },
        {
          "data": {"name": "candles"},
          "mark": {"type": "bar", "size": 4, "stroke": "black", "strokeWidth": 1, "clip": true},
          "encoding": {
            "x": {"field": "i", "type": "quantitative", "title": null},
            "y": {"field": "o", "type": "quantitative", "title": null},
            "y2": {"field": "c"},
            "fill": {"condition": {"test": "datum.c > datum.o", "value": "white"}, "value": "black"}
          }
        },
        {
          "data": {"name": "jaw"},
          "mark": {"type": "line", "color": "#0a50d2", "strokeWidth": 2, "interpolate": "monotone", "clip": true},
          "encoding": {
            "x": {"field": "i", "type": "quantitative", "title": null},
            "y": {"field": "v", "type": "quantitative", "title": null}
          }
        },
        {
          "data": {"name": "teeth"},
          "mark": {"type": "line", "color": "#ff0000", "strokeWidth": 2, "interpolate": "monotone", "clip": true},
          "encoding": {
            "x": {"field": "i", "type": "quantitative", "title": null},
            "y": {"field": "v", "type": "quantitative", "title": null}
          }
        },
        {
          "data": {"name": "lips"},
          "mark": {"type": "line", "color": "#32c832", "strokeWidth": 2, "interpolate": "monotone", "clip": true},
          "encoding": {
            "x": {"field": "i", "type": "quantitative", "title": null},
            "y": {"field": "v", "type": "quantitative", "title": null}
          }
        },
        {
          "data": {"name": "fup"},
          "mark": {"type": "point", "shape": "M0,-1L0.8,0.9L0,0.35L-0.8,0.9Z", "filled": true, "color": "#141a2e", "opacity": 1, "size": 120, "yOffset": -9, "clip": true},
          "encoding": {
            "x": {"field": "i", "type": "quantitative", "title": null},
            "y": {"field": "p", "type": "quantitative", "title": null}
          }
        },
        {
          "data": {"name": "fdn"},
          "mark": {"type": "point", "shape": "M0,1L0.8,-0.9L0,-0.35L-0.8,-0.9Z", "filled": true, "color": "#141a2e", "opacity": 1, "size": 120, "yOffset": 9, "clip": true},
          "encoding": {
            "x": {"field": "i", "type": "quantitative", "title": null},
            "y": {"field": "p", "type": "quantitative", "title": null}
          }
        },
        {
          "data": {"name": "last"},
          "mark": {"type": "tick", "orient": "horizontal", "color": "#c00000", "opacity": 1, "size": 38, "thickness": 11},
          "encoding": {
            "x": {"datum": 155.65, "type": "quantitative", "title": null},
            "y": {"field": "p", "type": "quantitative", "title": null}
          }
        },
        {
          "data": {"name": "last"},
          "mark": {"type": "text", "color": "white", "font": "Liberation Sans", "fontSize": 9, "align": "center", "baseline": "middle"},
          "encoding": {
            "x": {"datum": 155.65, "type": "quantitative", "title": null},
            "y": {"field": "p", "type": "quantitative", "title": null},
            "text": {"field": "p", "type": "quantitative", "format": ".5f"}
          }
        }
      ]
    },
    {
      "width": 1225,
      "height": 103,
      "title": {"text": "AO -0.002399"},
      "data": {"name": "ao"},
      "mark": {"type": "bar", "size": 4, "clip": true},
      "encoding": {
        "x": {
          "field": "i",
          "type": "quantitative",
          "scale": {"domain": [-0.2, 152.9], "nice": false, "zero": false},
          "axis": {
            "values": [0,4,8,12,16,20,24,28,32,36,40,44,48,52,56,60,64,68,72,76,80,84,88,92,96,100,104,108,112,116,120,124,128,132,136,140,144,148,152],
            "tickCount": 80,
            "labels": false, "ticks": false, "grid": true, "title": null
          }
        },
        "y": {
          "field": "v",
          "type": "quantitative",
          "scale": {"domain": [-0.006451, 0.009403], "nice": false, "zero": false},
          "axis": {
            "orient": "right",
            "values": [-0.006451, 0, 0.009403],
            "tickCount": 10,
            "labelExpr": "replace(format(datum.value, '.6f'), '\u2212', '-')",
            "labelFlush": true,
            "labelOverlap": false,
            "title": null,
            "tickSize": 4,
            "labelPadding": 3,
            "labelFontSize": 9,
            "grid": true,
            "gridOpacity": {"condition": {"test": "datum.value == 0", "value": 1}, "value": 0}
          }
        },
        "y2": {"datum": 0},
        "color": {"field": "d", "type": "nominal", "scale": {"domain": ["up", "dn"], "range": ["#008000", "#ff0000"]}, "legend": null}
      }
    },
    {
      "width": 1225,
      "height": 101,
      "title": {"text": "AC 0.0004872"},
      "data": {"name": "ac"},
      "mark": {"type": "bar", "size": 4, "clip": true},
      "encoding": {
        "x": {
          "field": "i",
          "type": "quantitative",
          "scale": {"domain": [-0.2, 152.9], "nice": false, "zero": false},
          "axis": {
            "values": [0,4,8,12,16,20,24,28,32,36,40,44,48,52,56,60,64,68,72,76,80,84,88,92,96,100,104,108,112,116,120,124,128,132,136,140,144,148,152],
            "tickCount": 80,
            "labels": false, "ticks": false, "grid": true, "title": null
          }
        },
        "y": {
          "field": "v",
          "type": "quantitative",
          "scale": {"domain": [-0.0024962, 0.0021609], "nice": false, "zero": false},
          "axis": {
            "orient": "right",
            "values": [-0.0024962, 0, 0.0021609],
            "tickCount": 10,
            "labelExpr": "replace(format(datum.value, '.7f'), '\u2212', '-')",
            "labelFlush": true,
            "labelOverlap": false,
            "title": null,
            "tickSize": 4,
            "labelPadding": 3,
            "labelFontSize": 9,
            "grid": true,
            "gridOpacity": {"condition": {"test": "datum.value == 0", "value": 1}, "value": 0}
          }
        },
        "y2": {"datum": 0},
        "color": {"field": "d", "type": "nominal", "scale": {"domain": ["up", "dn"], "range": ["#008000", "#ff0000"]}, "legend": null}
      }
    },
    {
      "width": 1225,
      "height": 84,
      "title": {"text": "Gator(13,8,5) 0.001073 0.000000"},
      "data": {"name": "gator"},
      "mark": {"type": "bar", "size": 4, "clip": true},
      "encoding": {
        "x": {
          "field": "i",
          "type": "quantitative",
          "scale": {"domain": [-0.2, 152.9], "nice": false, "zero": false},
          "axis": {
            "values": [0,4,8,12,16,20,24,28,32,36,40,44,48,52,56,60,64,68,72,76,80,84,88,92,96,100,104,108,112,116,120,124,128,132,136,140,144,148,152],
            "tickCount": 80,
            "title": null,
            "grid": true,
            "ticks": true,
            "tickSize": 5,
            "tickOpacity": {"condition": {"test": "datum.value % 8 == 0 && datum.value <= 136", "value": 1}, "value": 0},
            "labelAlign": "left",
            "labelPadding": 0,
            "labelFontSize": 10,
            "labelOverlap": false,
            "labelBound": false,
            "labelFlush": false,
            "labelExpr": "datum.value % 8 == 0 && datum.value <= 136 ? ['25 Nov 2024','26 Nov 00:00','26 Nov 08:00','26 Nov 16:00','27 Nov 00:00','27 Nov 08:00','27 Nov 16:00','28 Nov 00:00','28 Nov 08:00','28 Nov 16:00','29 Nov 00:00','29 Nov 08:00','29 Nov 16:00','2 Dec 00:00','2 Dec 08:00','2 Dec 16:00','3 Dec 00:00','3 Dec 08:00'][datum.value / 8] : ''"
          }
        },
        "y": {
          "field": "v",
          "type": "quantitative",
          "scale": {"domain": [-0.004242, 0.004429], "nice": false, "zero": false},
          "axis": {
            "orient": "right",
            "values": [-0.004242, 0, 0.004429],
            "tickCount": 10,
            "labelExpr": "replace(format(datum.value, '.6f'), '\u2212', '-')",
            "labelFlush": true,
            "labelOverlap": false,
            "title": null,
            "tickSize": 4,
            "labelPadding": 3,
            "labelFontSize": 9,
            "grid": true,
            "gridOpacity": {"condition": {"test": "datum.value == 0", "value": 1}, "value": 0}
          }
        },
        "y2": {"datum": 0},
        "color": {"field": "d", "type": "nominal", "scale": {"domain": ["up", "dn"], "range": ["#008000", "#ff0000"]}, "legend": null}
      }
    }
  ],
  "config": {
    "view": {"stroke": "black", "strokeWidth": 1, "fill": "white"},
    "axis": {
      "domain": false,
      "gridColor": "#b4b4b4",
      "gridDash": [3, 2],
      "gridWidth": 1,
      "labelFont": "Liberation Sans",
      "labelColor": "black",
      "tickColor": "black"
    },
    "title": {
      "anchor": "start",
      "frame": "group",
      "offset": -13,
      "dx": 4,
      "baseline": "alphabetic",
      "font": "Liberation Sans",
      "fontSize": 9.5,
      "fontWeight": "normal",
      "color": "black"
    }
  }
}
